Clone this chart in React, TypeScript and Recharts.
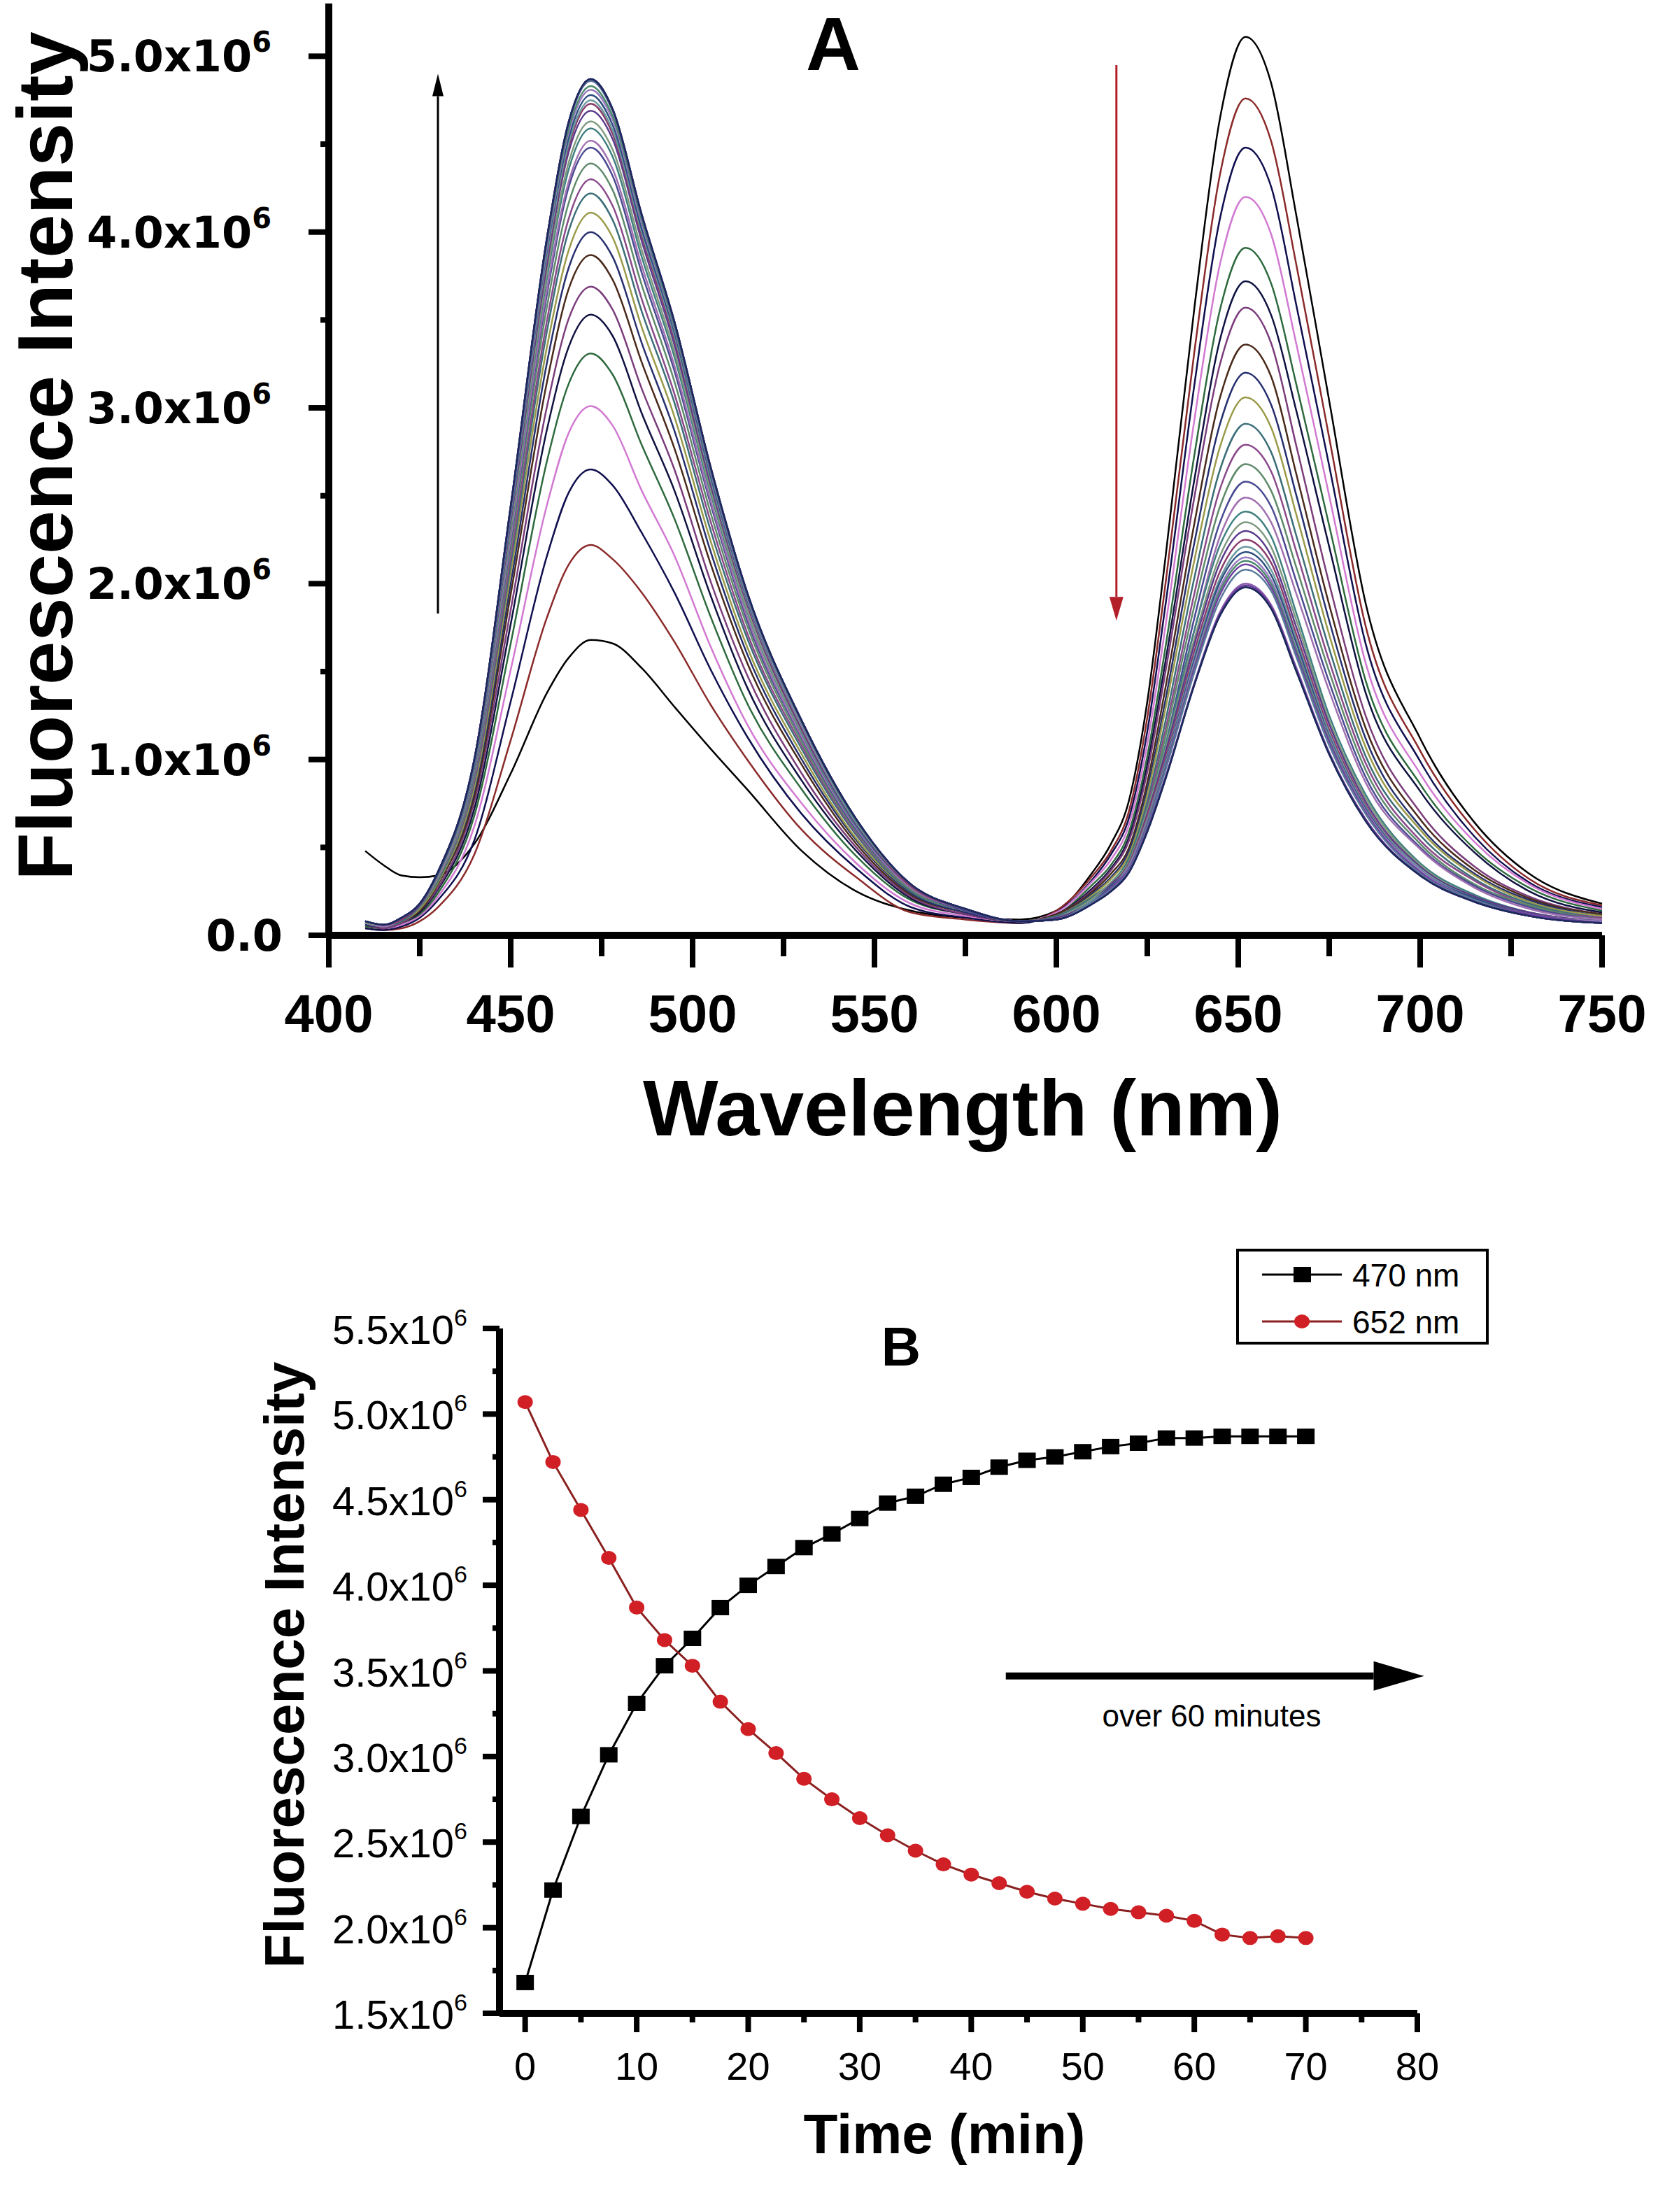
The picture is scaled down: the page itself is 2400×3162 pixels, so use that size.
import React from 'react'
import { LineChart, Line, XAxis, YAxis, ReferenceLine, Legend } from 'recharts'

const FONT = '"Liberation Sans", Arial, Helvetica, sans-serif'
const WIDE = '"DejaVu Sans", Verdana, sans-serif'

// ---- panel A: emission spectra (intensity in units of 1e6) ----
const wavelengths = [410, 415, 420, 425, 430, 440, 450, 460, 466, 472, 478, 486, 495, 505, 515, 530, 545, 560, 575, 590, 600, 610, 615, 620, 625, 630, 638, 645, 652, 659, 666, 675, 685, 700, 715, 730, 750]

const spectra = [
  [0.48, 0.40, 0.34, 0.33, 0.34, 0.52, 0.92, 1.38, 1.58, 1.68, 1.66, 1.52, 1.30, 1.06, 0.83, 0.48, 0.25, 0.14, 0.10, 0.09, 0.14, 0.36, 0.52, 0.77, 1.33, 2.15, 3.58, 4.65, 5.11, 4.85, 4.09, 3.04, 1.89, 1.12, 0.64, 0.35, 0.18],
  [0.04, 0.03, 0.04, 0.08, 0.16, 0.46, 1.11, 1.81, 2.11, 2.22, 2.14, 1.95, 1.67, 1.31, 1.00, 0.60, 0.33, 0.13, 0.09, 0.07, 0.14, 0.34, 0.48, 0.71, 1.24, 2.00, 3.33, 4.33, 4.76, 4.52, 3.81, 2.83, 1.76, 1.05, 0.60, 0.32, 0.17],
  [0.04, 0.03, 0.05, 0.10, 0.20, 0.54, 1.33, 2.16, 2.52, 2.65, 2.56, 2.29, 1.95, 1.51, 1.13, 0.69, 0.38, 0.16, 0.10, 0.07, 0.13, 0.32, 0.46, 0.67, 1.16, 1.88, 3.14, 4.08, 4.48, 4.26, 3.58, 2.67, 1.66, 0.99, 0.56, 0.30, 0.16],
  [0.05, 0.04, 0.06, 0.11, 0.22, 0.62, 1.51, 2.45, 2.86, 3.01, 2.90, 2.53, 2.16, 1.64, 1.20, 0.75, 0.41, 0.18, 0.11, 0.08, 0.13, 0.31, 0.43, 0.63, 1.09, 1.76, 2.94, 3.82, 4.20, 3.99, 3.36, 2.50, 1.55, 0.92, 0.53, 0.29, 0.15],
  [0.05, 0.04, 0.07, 0.12, 0.24, 0.68, 1.66, 2.70, 3.14, 3.31, 3.19, 2.79, 2.37, 1.81, 1.32, 0.83, 0.45, 0.20, 0.12, 0.08, 0.12, 0.29, 0.40, 0.59, 1.02, 1.64, 2.74, 3.56, 3.91, 3.71, 3.13, 2.33, 1.45, 0.86, 0.49, 0.27, 0.14],
  [0.06, 0.04, 0.07, 0.13, 0.26, 0.72, 1.77, 2.88, 3.35, 3.53, 3.41, 2.97, 2.53, 1.93, 1.41, 0.88, 0.48, 0.21, 0.12, 0.08, 0.12, 0.27, 0.38, 0.56, 0.97, 1.56, 2.60, 3.39, 3.72, 3.53, 2.98, 2.21, 1.38, 0.82, 0.47, 0.25, 0.13],
  [0.06, 0.04, 0.07, 0.14, 0.27, 0.76, 1.85, 3.01, 3.51, 3.69, 3.56, 3.11, 2.65, 2.01, 1.48, 0.92, 0.50, 0.22, 0.12, 0.08, 0.12, 0.26, 0.37, 0.54, 0.93, 1.50, 2.50, 3.25, 3.57, 3.37, 2.78, 2.00, 1.25, 0.70, 0.39, 0.22, 0.12],
  [0.06, 0.05, 0.08, 0.14, 0.29, 0.79, 1.94, 3.15, 3.68, 3.87, 3.73, 3.26, 2.77, 2.11, 1.55, 0.97, 0.52, 0.23, 0.13, 0.08, 0.12, 0.25, 0.35, 0.50, 0.87, 1.41, 2.35, 3.06, 3.36, 3.18, 2.62, 1.88, 1.18, 0.66, 0.37, 0.21, 0.12],
  [0.06, 0.05, 0.08, 0.15, 0.30, 0.82, 2.00, 3.26, 3.80, 4.00, 3.86, 3.37, 2.87, 2.18, 1.60, 1.00, 0.54, 0.24, 0.13, 0.08, 0.11, 0.24, 0.33, 0.48, 0.83, 1.34, 2.24, 2.91, 3.20, 3.02, 2.50, 1.79, 1.12, 0.62, 0.35, 0.20, 0.11],
  [0.07, 0.05, 0.08, 0.15, 0.30, 0.84, 2.06, 3.35, 3.90, 4.11, 3.97, 3.46, 2.95, 2.24, 1.64, 1.03, 0.55, 0.25, 0.14, 0.08, 0.11, 0.23, 0.32, 0.46, 0.80, 1.29, 2.14, 2.78, 3.06, 2.89, 2.39, 1.71, 1.07, 0.60, 0.34, 0.19, 0.11],
  [0.07, 0.05, 0.08, 0.16, 0.31, 0.87, 2.11, 3.44, 4.01, 4.22, 4.07, 3.55, 3.03, 2.30, 1.69, 1.06, 0.57, 0.25, 0.14, 0.08, 0.11, 0.22, 0.30, 0.44, 0.76, 1.22, 2.04, 2.65, 2.91, 2.75, 2.27, 1.63, 1.02, 0.57, 0.32, 0.18, 0.10],
  [0.07, 0.05, 0.09, 0.16, 0.32, 0.88, 2.15, 3.50, 4.08, 4.30, 4.15, 3.62, 3.08, 2.35, 1.72, 1.08, 0.58, 0.26, 0.14, 0.08, 0.10, 0.21, 0.29, 0.42, 0.73, 1.17, 1.95, 2.54, 2.79, 2.64, 2.18, 1.56, 0.98, 0.54, 0.31, 0.17, 0.10],
  [0.07, 0.05, 0.09, 0.16, 0.32, 0.90, 2.20, 3.58, 4.17, 4.39, 4.24, 3.70, 3.15, 2.40, 1.76, 1.10, 0.59, 0.26, 0.14, 0.08, 0.10, 0.21, 0.28, 0.40, 0.70, 1.13, 1.88, 2.44, 2.68, 2.53, 2.09, 1.50, 0.94, 0.52, 0.29, 0.17, 0.09],
  [0.07, 0.05, 0.09, 0.17, 0.33, 0.92, 2.24, 3.65, 4.26, 4.48, 4.32, 3.77, 3.21, 2.45, 1.79, 1.12, 0.60, 0.27, 0.14, 0.08, 0.10, 0.20, 0.27, 0.39, 0.67, 1.08, 1.81, 2.35, 2.58, 2.44, 2.01, 1.44, 0.90, 0.50, 0.28, 0.16, 0.09],
  [0.07, 0.05, 0.09, 0.17, 0.33, 0.93, 2.26, 3.68, 4.29, 4.52, 4.36, 3.81, 3.24, 2.47, 1.81, 1.13, 0.61, 0.27, 0.15, 0.08, 0.10, 0.19, 0.26, 0.37, 0.65, 1.05, 1.74, 2.27, 2.49, 2.35, 1.94, 1.39, 0.87, 0.49, 0.27, 0.15, 0.09],
  [0.07, 0.06, 0.09, 0.17, 0.34, 0.94, 2.30, 3.74, 4.36, 4.59, 4.43, 3.86, 3.29, 2.51, 1.84, 1.15, 0.62, 0.28, 0.15, 0.08, 0.10, 0.21, 0.30, 0.43, 0.72, 1.08, 1.74, 2.22, 2.41, 2.27, 1.83, 1.25, 0.80, 0.41, 0.23, 0.13, 0.08],
  [0.07, 0.06, 0.09, 0.17, 0.34, 0.95, 2.32, 3.77, 4.40, 4.63, 4.47, 3.90, 3.32, 2.53, 1.85, 1.16, 0.63, 0.28, 0.15, 0.08, 0.10, 0.21, 0.30, 0.42, 0.71, 1.06, 1.69, 2.16, 2.35, 2.21, 1.79, 1.22, 0.78, 0.40, 0.22, 0.13, 0.08],
  [0.08, 0.06, 0.09, 0.17, 0.35, 0.96, 2.35, 3.82, 4.46, 4.69, 4.53, 3.95, 3.36, 2.56, 1.88, 1.17, 0.63, 0.28, 0.15, 0.08, 0.10, 0.20, 0.29, 0.41, 0.69, 1.04, 1.66, 2.12, 2.30, 2.16, 1.75, 1.20, 0.76, 0.39, 0.22, 0.13, 0.08],
  [0.08, 0.06, 0.09, 0.18, 0.35, 0.97, 2.37, 3.85, 4.49, 4.73, 4.56, 3.98, 3.39, 2.58, 1.89, 1.18, 0.64, 0.28, 0.15, 0.08, 0.09, 0.20, 0.28, 0.41, 0.68, 1.01, 1.62, 2.07, 2.25, 2.12, 1.71, 1.17, 0.74, 0.38, 0.21, 0.12, 0.08],
  [0.08, 0.06, 0.10, 0.18, 0.35, 0.97, 2.38, 3.87, 4.51, 4.75, 4.58, 4.00, 3.41, 2.59, 1.90, 1.19, 0.64, 0.29, 0.15, 0.08, 0.09, 0.20, 0.28, 0.40, 0.66, 0.99, 1.59, 2.03, 2.21, 2.08, 1.68, 1.15, 0.73, 0.38, 0.21, 0.12, 0.08],
  [0.08, 0.06, 0.10, 0.18, 0.35, 0.98, 2.39, 3.90, 4.54, 4.78, 4.61, 4.02, 3.43, 2.61, 1.91, 1.20, 0.65, 0.29, 0.15, 0.08, 0.09, 0.19, 0.28, 0.39, 0.65, 0.98, 1.57, 2.01, 2.18, 2.05, 1.66, 1.13, 0.72, 0.37, 0.21, 0.12, 0.08],
  [0.08, 0.06, 0.10, 0.18, 0.36, 0.99, 2.41, 3.92, 4.57, 4.81, 4.64, 4.05, 3.45, 2.63, 1.92, 1.20, 0.65, 0.29, 0.15, 0.08, 0.09, 0.19, 0.27, 0.39, 0.65, 0.97, 1.55, 1.98, 2.15, 2.02, 1.63, 1.12, 0.71, 0.37, 0.20, 0.12, 0.08],
  [0.08, 0.06, 0.10, 0.18, 0.36, 0.99, 2.42, 3.94, 4.59, 4.83, 4.66, 4.07, 3.46, 2.64, 1.93, 1.21, 0.65, 0.29, 0.15, 0.08, 0.09, 0.19, 0.27, 0.38, 0.64, 0.96, 1.53, 1.96, 2.13, 2.00, 1.62, 1.11, 0.70, 0.36, 0.20, 0.12, 0.07],
  [0.08, 0.06, 0.10, 0.18, 0.36, 1.00, 2.43, 3.96, 4.62, 4.86, 4.69, 4.09, 3.48, 2.65, 1.94, 1.22, 0.66, 0.29, 0.15, 0.08, 0.09, 0.19, 0.27, 0.38, 0.63, 0.95, 1.52, 1.94, 2.11, 1.98, 1.60, 1.10, 0.70, 0.36, 0.20, 0.12, 0.07],
  [0.08, 0.06, 0.10, 0.18, 0.36, 1.00, 2.43, 3.96, 4.62, 4.86, 4.69, 4.09, 3.48, 2.65, 1.94, 1.22, 0.66, 0.29, 0.15, 0.08, 0.09, 0.19, 0.26, 0.37, 0.62, 0.94, 1.50, 1.91, 2.08, 1.96, 1.58, 1.08, 0.69, 0.35, 0.20, 0.11, 0.07],
  [0.08, 0.06, 0.10, 0.18, 0.36, 1.00, 2.44, 3.97, 4.63, 4.87, 4.70, 4.10, 3.49, 2.66, 1.95, 1.22, 0.66, 0.29, 0.15, 0.08, 0.09, 0.18, 0.25, 0.36, 0.60, 0.90, 1.44, 1.84, 2.00, 1.88, 1.52, 1.04, 0.66, 0.34, 0.19, 0.11, 0.07],
  [0.08, 0.06, 0.10, 0.18, 0.36, 1.00, 2.44, 3.97, 4.63, 4.87, 4.70, 4.10, 3.49, 2.66, 1.95, 1.22, 0.66, 0.29, 0.15, 0.08, 0.09, 0.18, 0.25, 0.36, 0.59, 0.89, 1.43, 1.82, 1.98, 1.86, 1.50, 1.03, 0.65, 0.34, 0.19, 0.11, 0.07],
  [0.08, 0.06, 0.10, 0.18, 0.36, 1.00, 2.44, 3.97, 4.63, 4.87, 4.70, 4.10, 3.49, 2.66, 1.95, 1.22, 0.66, 0.29, 0.15, 0.08, 0.09, 0.18, 0.25, 0.36, 0.60, 0.90, 1.43, 1.83, 1.99, 1.87, 1.51, 1.03, 0.66, 0.34, 0.19, 0.11, 0.07],
  [0.08, 0.06, 0.10, 0.18, 0.36, 1.00, 2.44, 3.97, 4.63, 4.87, 4.70, 4.10, 3.49, 2.66, 1.95, 1.22, 0.66, 0.29, 0.15, 0.08, 0.09, 0.18, 0.25, 0.36, 0.59, 0.89, 1.43, 1.82, 1.98, 1.86, 1.50, 1.03, 0.65, 0.34, 0.19, 0.11, 0.07],
]

const spectrumColors = [
  '#000000', '#8b2a2a', '#10104f', '#d27ad2', '#2e6a3e', '#0f1240', '#7b3d7b', '#4a2a1a',
  '#26306e', '#9a9a4a', '#3c6e78', '#8a4a8a', '#5f8a6a', '#4a4a92', '#a070b0', '#3f7f7f',
  '#7f9a7f', '#5a3a8a', '#8a3a6a', '#6a9aa0', '#30507f', '#9a7ac0', '#4a8a6a', '#7040a0',
  '#5a7a9a', '#8a60b0', '#2a2a70', '#6a3a9a', '#1a2a5a',
]

const wlTicks = [400, 425, 450, 475, 500, 525, 550, 575, 600, 625, 650, 675, 700, 725, 750]
const intensityTicksA = [0, 0.5, 1, 1.5, 2, 2.5, 3, 3.5, 4, 4.5, 5]

// ---- panel B: peak intensity vs time (units of 1e6) ----
const times = [0, 2.5, 5, 7.5, 10, 12.5, 15, 17.5, 20, 22.5, 25, 27.5, 30, 32.5, 35, 37.5, 40, 42.5, 45, 47.5, 50, 52.5, 55, 57.5, 60, 62.5, 65, 67.5, 70]
const intensity470 = [1.68, 2.22, 2.65, 3.01, 3.31, 3.53, 3.69, 3.87, 4.00, 4.11, 4.22, 4.30, 4.39, 4.48, 4.52, 4.59, 4.63, 4.69, 4.73, 4.75, 4.78, 4.81, 4.83, 4.86, 4.86, 4.87, 4.87, 4.87, 4.87]
const intensity652 = [5.07, 4.72, 4.44, 4.16, 3.87, 3.68, 3.53, 3.32, 3.16, 3.02, 2.87, 2.75, 2.64, 2.54, 2.45, 2.37, 2.31, 2.26, 2.21, 2.17, 2.14, 2.11, 2.09, 2.07, 2.04, 1.96, 1.94, 1.95, 1.94]

const timeTicks = [0, 5, 10, 15, 20, 25, 30, 35, 40, 45, 50, 55, 60, 65, 70, 75, 80]
const intensityTicksB = [1.5, 1.75, 2, 2.25, 2.5, 2.75, 3, 3.25, 3.5, 3.75, 4, 4.25, 4.5, 4.75, 5, 5.25, 5.5]

const spectraRows = wavelengths.map((wl, j) => {
  const row: Record<string, number> = { wl }
  spectra.forEach((s, i) => {
    row['s' + i] = s[j]
  })
  return row
})

const kineticRows = times.map((t, i) => ({ t, i470: intensity470[i], i652: intensity652[i] }))

function WaveTick(props: any) {
  const { x, y, payload } = props
  const major = payload.value % 50 === 0
  return (
    <g>
      <line x1={x} x2={x} y1={y} y2={y + (major ? 46 : 30)} stroke="#000" strokeWidth={8} />
      {major && (
        <text x={x} y={y + 138} textAnchor="middle" fontFamily={FONT} fontWeight="bold" fontSize={76} fill="#000">
          {payload.value}
        </text>
      )}
    </g>
  )
}

function IntensityTickA(props: any) {
  const { x, y, payload } = props
  const v = payload.value
  const major = Number.isInteger(v)
  return (
    <g>
      <line x1={x} x2={x - (major ? 29 : 12)} y1={y} y2={y} stroke="#000" strokeWidth={8} />
      {major && v === 0 && (
        <text x={x - 66} y={y + 22} textAnchor="end" fontFamily={WIDE} fontWeight="bold" fontSize={62} fill="#000">0.0</text>
      )}
      {major && v !== 0 && (
        <text x={x - 82} y={y + 22} textAnchor="end" fontFamily={WIDE} fontWeight="bold" fontSize={62} fill="#000">
          {v.toFixed(1)}x10<tspan dy={-28} fontSize={40}>6</tspan>
        </text>
      )}
    </g>
  )
}

function TimeTick(props: any) {
  const { x, y, payload } = props
  const major = payload.value % 10 === 0
  return (
    <g>
      <line x1={x} x2={x} y1={y} y2={y + (major ? 27 : 13)} stroke="#000" strokeWidth={8} />
      {major && (
        <text x={x} y={y + 95} textAnchor="middle" fontFamily={FONT} fontSize={56} fill="#000">
          {payload.value}
        </text>
      )}
    </g>
  )
}

function IntensityTickB(props: any) {
  const { x, y, payload } = props
  const v = payload.value
  const major = Number.isInteger(v * 2)
  return (
    <g>
      <line x1={x} x2={x - (major ? 24 : 10)} y1={y} y2={y} stroke="#000" strokeWidth={8} />
      {major && (
        <text x={x - 46} y={y + 22} textAnchor="end" fontFamily={FONT} fontSize={58} fill="#000">
          {v.toFixed(1)}x10<tspan dy={-26} fontSize={34}>6</tspan>
        </text>
      )}
    </g>
  )
}

function Arrow(props: any) {
  const { x1, y1, x2, y2, color, width, headLen, headHalf } = props
  const dx = x2 - x1
  const dy = y2 - y1
  const len = Math.sqrt(dx * dx + dy * dy) || 1
  const ux = dx / len
  const uy = dy / len
  const bx = x2 - ux * headLen
  const by = y2 - uy * headLen
  const pts = `${x2},${y2} ${bx - uy * headHalf},${by + ux * headHalf} ${bx + uy * headHalf},${by - ux * headHalf}`
  return (
    <g>
      <line x1={x1} y1={y1} x2={bx} y2={by} stroke={color} strokeWidth={width} />
      <polygon points={pts} fill={color} />
    </g>
  )
}

function SquareDot(props: any) {
  const { cx, cy, index } = props
  return <rect key={'sq' + index} x={cx - 12.5} y={cy - 11} width={25} height={22} fill="#000" />
}

function CircleDot(props: any) {
  const { cx, cy, index } = props
  return <ellipse key={'ci' + index} cx={cx} cy={cy} rx={11} ry={10} fill="#d01f25" />
}

function KineticLegend() {
  return (
    <div style={{ width: 361, height: 137, border: '4px solid #000', boxSizing: 'border-box', background: '#fff', position: 'relative' }}>
      <svg width={353} height={129} style={{ position: 'absolute', left: 0, top: 0 }}>
        <line x1={33} x2={147} y1={33} y2={33} stroke="#000" strokeWidth={3} />
        <rect x={78} y={22} width={25} height={22} fill="#000" />
        <text x={162} y={50} fontFamily={FONT} fontSize={46} fill="#000">470 nm</text>
        <line x1={33} x2={147} y1={100} y2={100} stroke="#8b2020" strokeWidth={3} />
        <ellipse cx={90} cy={100} rx={11} ry={10} fill="#d01f25" />
        <text x={162} y={117} fontFamily={FONT} fontSize={46} fill="#000">652 nm</text>
      </svg>
    </div>
  )
}

export default function App() {
  return (
    <div style={{ width: 2400, height: 3162, background: '#fff' }}>
      <style>{'body{margin:0;background:#fff}'}</style>

      <LineChart width={2400} height={1700} data={spectraRows} margin={{ top: 5, right: 110, left: 370, bottom: 263 }}>
        <XAxis
          dataKey="wl"
          type="number"
          domain={[400, 750]}
          ticks={wlTicks}
          interval={0}
          tick={WaveTick}
          tickSize={0}
          tickMargin={0}
          tickLine={false}
          axisLine={{ stroke: '#000', strokeWidth: 10 }}
          height={100}
        />
        <YAxis
          type="number"
          domain={[0, 5.3]}
          ticks={intensityTicksA}
          interval={0}
          tick={IntensityTickA}
          tickSize={0}
          tickMargin={0}
          tickLine={false}
          axisLine={{ stroke: '#000', strokeWidth: 10 }}
          width={100}
          allowDataOverflow
        />
        {spectra.map((_, i) => (
          <Line
            key={i}
            dataKey={'s' + i}
            type="monotone"
            stroke={spectrumColors[i]}
            strokeWidth={2.5}
            dot={false}
            activeDot={false}
            isAnimationActive={false}
          />
        ))}
        <ReferenceLine
          segment={[{ x: 430, y: 1.83 }, { x: 430, y: 4.9 }]}
          ifOverflow="visible"
          shape={(p: any) => <Arrow {...p} color="#000" width={3} headLen={32} headHalf={8} />}
        />
        <ReferenceLine
          segment={[{ x: 616.5, y: 4.95 }, { x: 616.5, y: 1.79 }]}
          ifOverflow="visible"
          shape={(p: any) => <Arrow {...p} color="#b3202a" width={3} headLen={34} headHalf={10} />}
        />
        <text x={1191} y={100} textAnchor="middle" fontFamily={FONT} fontWeight="bold" fontSize={108} fill="#000">A</text>
        <text x={1376} y={1623} textAnchor="middle" fontFamily={FONT} fontWeight="bold" fontSize={114} fill="#000">Wavelength (nm)</text>
        <text
          x={103}
          y={652}
          transform="rotate(-90 103 652)"
          textAnchor="middle"
          fontFamily={FONT}
          fontWeight="bold"
          fontSize={112}
          fill="#000"
        >
          Fluorescence Intensity
        </text>
      </LineChart>

      <LineChart width={2400} height={1462} data={kineticRows} margin={{ top: 199, right: 374, left: 614, bottom: 184 }}>
        <XAxis
          dataKey="t"
          type="number"
          domain={[-2.3, 80]}
          ticks={timeTicks}
          interval={0}
          tick={TimeTick}
          tickSize={0}
          tickMargin={0}
          tickLine={false}
          axisLine={{ stroke: '#000', strokeWidth: 10 }}
          height={100}
          allowDataOverflow
        />
        <YAxis
          type="number"
          domain={[1.5, 5.5]}
          ticks={intensityTicksB}
          interval={0}
          tick={IntensityTickB}
          tickSize={0}
          tickMargin={0}
          tickLine={false}
          axisLine={{ stroke: '#000', strokeWidth: 10 }}
          width={100}
          allowDataOverflow
        />
        <Legend
          layout="horizontal"
          verticalAlign="middle"
          align="center"
          content={() => <KineticLegend />}
          wrapperStyle={{ position: 'absolute', left: 1767, top: 85, width: 361, height: 137 }}
        />
        <Line
          dataKey="i470"
          name="470 nm"
          type="linear"
          stroke="#000"
          strokeWidth={3}
          dot={SquareDot}
          activeDot={false}
          isAnimationActive={false}
        />
        <Line
          dataKey="i652"
          name="652 nm"
          type="linear"
          stroke="#8b2020"
          strokeWidth={3}
          dot={CircleDot}
          activeDot={false}
          isAnimationActive={false}
        />
        <ReferenceLine
          segment={[{ x: 43.1, y: 3.47 }, { x: 80.6, y: 3.47 }]}
          ifOverflow="visible"
          shape={(p: any) => <Arrow {...p} color="#000" width={10} headLen={72} headHalf={21} />}
        />
        <text x={1732} y={768} textAnchor="middle" fontFamily={FONT} fontSize={44} fill="#000">over 60 minutes</text>
        <text x={1288} y={252} textAnchor="middle" fontFamily={FONT} fontWeight="bold" fontSize={78} fill="#000">B</text>
        <text x={1350} y={1378} textAnchor="middle" fontFamily={FONT} fontWeight="bold" fontSize={80} fill="#000">Time (min)</text>
        <text
          x={434}
          y={680}
          transform="rotate(-90 434 680)"
          textAnchor="middle"
          fontFamily={FONT}
          fontWeight="bold"
          fontSize={80}
          fill="#000"
        >
          Fluorescence Intensity
        </text>
      </LineChart>
    </div>
  )
}
